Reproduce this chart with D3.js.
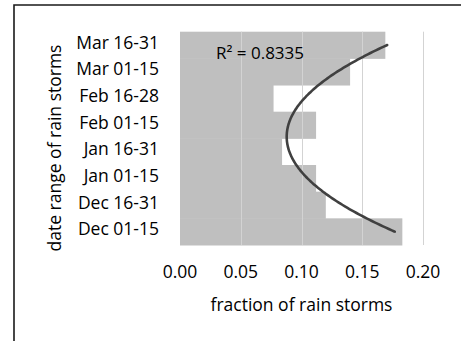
<!DOCTYPE html>
<html>
<head>
<meta charset="utf-8">
<script src="https://cdn.jsdelivr.net/npm/d3@7"></script>
<style>
	body { margin: 0; background: #fff; }
	text { font-family: "Open Sans", sans-serif; fill: #000; }
</style>
</head>
<body>
<div class="wrapper"></div>
<script>

// categories, bottom to top as in the picture
var periods = ["Dec 01-15", "Dec 16-31", "Jan 01-15", "Jan 16-31",
	"Feb 01-15", "Feb 16-28", "Mar 01-15", "Mar 16-31"];
var fractions = [0.183, 0.120, 0.112, 0.084, 0.112, 0.077, 0.140, 0.169];
var xTicks = [0.00, 0.05, 0.10, 0.15, 0.20];
var r2Label = "R\u00b2 = 0.8335";

var W = 461,
	H = 341,
	LEFT = 180,
	RIGHT = 423,
	TOP = 31.7,
	BOTTOM = 245;

var svg = d3.select(".wrapper")
	.append("svg")
		.attr("width", W)
		.attr("height", H);

// chart frame
svg.append("path")
	.attr("d", "M14," + H + " V5 H" + (W + 5))
	.attr("fill", "none")
	.attr("stroke", "#1a1a1a")
	.attr("stroke-width", 1.6);

var x = d3.scaleLinear()
	.domain([0, 0.2])
	.range([LEFT, RIGHT]);

var y = d3.scaleBand()
	.domain(periods.slice().reverse())
	.range([TOP, BOTTOM])
	.padding(0);

// bars
svg.append("g")
	.selectAll("rect")
	.data(periods)
	.enter()
	.append("rect")
		.attr("x", x(0))
		.attr("y", function(d) {return y(d);})
		.attr("width", function(d, i) {return x(fractions[i]) - x(0);})
		.attr("height", y.bandwidth() + 0.5)
		.attr("fill", "#bfbfbf");

// gridlines (they show faintly through the bars)
svg.append("g")
	.selectAll("line")
	.data(xTicks.slice(1))
	.enter()
	.append("line")
		.attr("x1", function(d) {return Math.round(x(d)) + 0.5;})
		.attr("x2", function(d) {return Math.round(x(d)) + 0.5;})
		.attr("y1", TOP)
		.attr("y2", BOTTOM)
		.attr("stroke", "#d3d3d3")
		.attr("stroke-width", 1);

// polynomial (order 2) trendline, least squares on category index 1..n
function quadFit(vals) {
	var s = [0, 0, 0, 0, 0], t = [0, 0, 0];
	vals.forEach(function(v, k) {
		var i = k + 1;
		for (var p = 0; p < 5; p++) s[p] += Math.pow(i, p);
		for (var q = 0; q < 3; q++) t[q] += v * Math.pow(i, q);
	});
	var m = [[s[0], s[1], s[2], t[0]], [s[1], s[2], s[3], t[1]], [s[2], s[3], s[4], t[2]]];
	for (var c = 0; c < 3; c++) {
		for (var r = c + 1; r < 3; r++) {
			var f = m[r][c] / m[c][c];
			for (var k = c; k < 4; k++) m[r][k] -= f * m[c][k];
		}
	}
	var coef = [0, 0, 0];
	for (var r2 = 2; r2 >= 0; r2--) {
		var sum = m[r2][3];
		for (var k2 = r2 + 1; k2 < 3; k2++) sum -= m[r2][k2] * coef[k2];
		coef[r2] = sum / m[r2][r2];
	}
	return coef;
}

var coef = quadFit(fractions);
var trend = d3.range(1, 8.001, 0.05).map(function(i) {
	return [i, coef[0] + coef[1] * i + coef[2] * i * i];
});

// index 1..n mapped onto band centres
var yIdx = d3.scaleLinear()
	.domain([1, periods.length])
	.range([y(periods[0]) + y.bandwidth() / 2, y(periods[periods.length - 1]) + y.bandwidth() / 2]);

svg.append("path")
	.datum(trend)
	.attr("d", d3.line()
		.x(function(d) {return x(d[1]);})
		.y(function(d) {return yIdx(d[0]);})
		.curve(d3.curveBasis))
	.attr("fill", "none")
	.attr("stroke", "#404040")
	.attr("stroke-width", 2.6)
	.attr("stroke-linecap", "round");

svg.append("text")
	.attr("x", 216)
	.attr("y", 59)
	.style("font-size", "17px")
	.text(r2Label);

// y axis labels
svg.append("g")
	.selectAll("text")
	.data(periods)
	.enter()
	.append("text")
		.attr("x", 159)
		.attr("y", function(d) {return y(d) + y.bandwidth() / 2 - 2.5;})
		.attr("dy", "0.35em")
		.attr("text-anchor", "end")
		.style("font-size", "17.5px")
		.text(function(d) {return d;});

// x axis labels
svg.append("g")
	.selectAll("text")
	.data(xTicks)
	.enter()
	.append("text")
		.attr("x", function(d) {return x(d);})
		.attr("y", 278)
		.attr("text-anchor", "middle")
		.style("font-size", "17.5px")
		.text(function(d) {return d.toFixed(2);});

// axis titles
svg.append("text")
	.attr("x", (LEFT + RIGHT) / 2)
	.attr("y", 311)
	.attr("text-anchor", "middle")
	.style("font-size", "17.5px")
	.text("fraction of rain storms");

svg.append("text")
	.attr("transform", "translate(61," + 148 + ") rotate(-90)")
	.attr("text-anchor", "middle")
	.style("font-size", "17.5px")
	.text("date range of rain storms");

</script>
</body>
</html>
